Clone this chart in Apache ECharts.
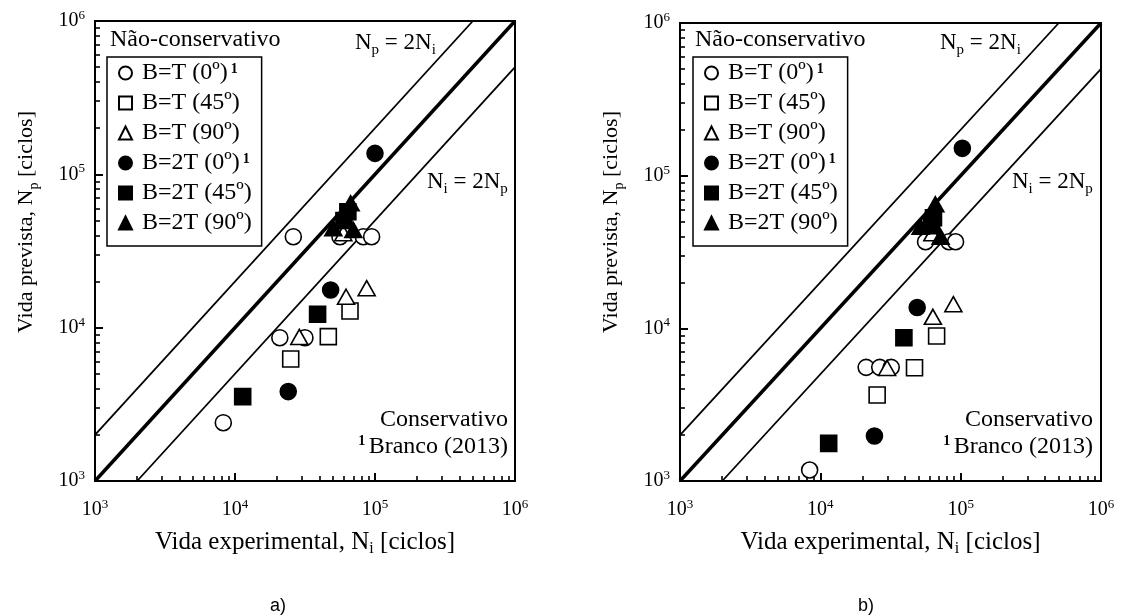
<!DOCTYPE html>
<html><head><meta charset="utf-8">
<script src="https://cdn.jsdelivr.net/npm/echarts@6/dist/echarts.min.js"></script>
<style>html,body{margin:0;padding:0;background:#fff}#c{width:1125px;height:616px}</style>
</head><body><div id="c"></div>
<script>
// ---------- data ----------
const seriesNames = ['B=T (0º)', 'B=T (45º)', 'B=T (90º)', 'B=2T (0º)', 'B=2T (45º)', 'B=2T (90º)'];
const supNames = ['B=T (0º)', 'B=2T (0º)'];
const tickExponents = [3, 4, 5, 6];
const minorMultipliers = [2, 3, 4, 5, 6, 7, 8, 9];

// chart a) [Ni, Np]
const a_BT_0   = [[8250, 2400], [20900, 8600], [31600, 8600], [26100, 39200], [56200, 39200], [82500, 39200], [94600, 39200]];
const a_BT_45  = [[25000, 6250], [46400, 8740], [66300, 12850]];
const a_BT_90  = [[28800, 8700], [62100, 15900], [87200, 18100], [59400, 41300]];
const a_B2T_0  = [[100000, 137000], [48200, 17600], [24000, 3830]];
const a_B2T_45 = [[11350, 3550], [38900, 12230], [60000, 50000], [64000, 57000]];
const a_B2T_90 = [[50400, 44500], [67000, 64800], [70000, 43400]];

// chart b) [Ni, Np]
const b_BT_0   = [[8390, 1180], [21200, 5550], [26500, 5550], [32000, 5550], [56200, 36900], [82500, 36900], [92000, 36900]];
const b_BT_45  = [[25400, 3660], [46900, 5520], [67400, 8900]];
const b_BT_90  = [[29900, 5500], [63400, 11900], [88700, 14400], [62800, 41900]];
const b_B2T_0  = [[102800, 151000], [49000, 13700], [24300, 1970]];
const b_B2T_45 = [[11470, 1765], [39400, 8680], [62000, 47000], [64000, 53000]];
const b_B2T_90 = [[51800, 46300], [66000, 65000], [72000, 39800]];

// reference lines
const lineNpEq2Ni = [[1000, 2000], [500000, 1000000]];
const lineNpEqNi  = [[1000, 1000], [1000000, 1000000]];
const lineNiEq2Np = [[2000, 1000], [1000000, 500000]];

// ---------- helpers ----------
const SERIF = 'Liberation Serif';
const FS = 24;
const majorTicks = tickExponents.map(e => Math.pow(10, e));
const minorTicks = [];
tickExponents.slice(0, -1).forEach(e => minorMultipliers.forEach(m => minorTicks.push(m * Math.pow(10, e))));

const supRich = {
  b: { fontFamily: SERIF, fontSize: 20, color: '#000', lineHeight: 24 },
  s: { fontFamily: SERIF, fontSize: 13, color: '#000', lineHeight: 13, verticalAlign: 'top' }
};
const tickFmt = v => '{b|10}{s|' + Math.round(Math.log10(v)) + '}';

const subRich = (fs) => ({
  m: { fontFamily: SERIF, fontSize: fs, color: '#000', lineHeight: 30 },
  sub: { fontFamily: SERIF, fontSize: Math.round(fs * 0.65), color: '#000', lineHeight: 14, verticalAlign: 'bottom' }
});

function makeAxes(grid, isX) {
  const main = {
    type: 'log', logBase: 10, min: 1000, max: 1000000, gridIndex: grid,
    position: isX ? 'bottom' : 'left',
    axisLine: { show: true, lineStyle: { color: '#000', width: 2 } },
    axisTick: { show: true, inside: true, length: 8, lineStyle: { color: '#000', width: 2 }, customValues: majorTicks },
    axisLabel: { show: true, margin: isX ? 17 : 10, formatter: tickFmt, rich: supRich, customValues: majorTicks },
    splitLine: { show: false },
    minorTick: { show: false }
  };
  if (isX) {
    main.name = '{m|Vida experimental, N}{sub|i}{m| [ciclos]}';
    main.nameLocation = 'middle';
    main.nameGap = 46;
    main.nameTextStyle = { rich: subRich(25) };
  }
  const minor = {
    type: 'log', logBase: 10, min: 1000, max: 1000000, gridIndex: grid,
    position: isX ? 'bottom' : 'left',
    axisLine: { show: false },
    axisTick: { show: true, inside: true, length: 5, lineStyle: { color: '#000', width: 1.6 }, customValues: minorTicks },
    axisLabel: { show: false },
    splitLine: { show: false }
  };
  return [main, minor];
}

const symbolDefs = [
  { symbol: 'circle', size: 16, fill: '#fff' },
  { symbol: 'rect', size: 16, fill: '#fff' },
  { symbol: 'triangle', size: [17, 15], fill: '#fff' },
  { symbol: 'circle', size: 16, fill: '#000' },
  { symbol: 'rect', size: 16, fill: '#000' },
  { symbol: 'triangle', size: [17, 15], fill: '#000' }
];

function lineSeries(data, grid, width) {
  return {
    type: 'line', data: data, xAxisIndex: grid * 2, yAxisIndex: grid * 2,
    showSymbol: false, symbol: 'none', silent: true, z: 2,
    lineStyle: { color: '#000', width: width }, legendHoverLink: false, tooltip: { show: false }
  };
}

function scatterSeries(sets, grid) {
  return sets.map((d, i) => ({
    type: 'scatter', name: seriesNames[i], data: d,
    xAxisIndex: grid * 2, yAxisIndex: grid * 2,
    symbol: symbolDefs[i].symbol, symbolSize: symbolDefs[i].size, z: 5 + (i >= 3 ? 1 : 0),
    itemStyle: { color: symbolDefs[i].fill, borderColor: '#000', borderWidth: 1.6, opacity: 1 }
  }));
}

function legendFor(left) {
  return {
    orient: 'vertical', left: left, top: 57,
    data: seriesNames, selectedMode: false,
    itemWidth: 13, itemHeight: 13, itemGap: 6,
    borderColor: '#000', borderWidth: 1.5, borderRadius: 0,
    padding: [4, 10, 11, 11],
    formatter: n => supNames.includes(n) ? '{t|' + n + '}{s|1}' : '{t|' + n + '}',
    textStyle: {
      color: '#000', fontFamily: SERIF, fontSize: FS, lineHeight: 22,
      rich: {
        t: { fontFamily: SERIF, fontSize: FS, lineHeight: 22, color: '#000', padding: [0, 0, 0, 5] },
        s: { fontFamily: SERIF, fontSize: 14, fontWeight: 'bold', lineHeight: 14, verticalAlign: 'top', color: '#000', padding: [0, 0, 0, 3] }
      }
    }
  };
}

function txt(x, y, text, rich, align, rot) {
  return { type: 'text', x: x, y: y, rotation: rot || 0, silent: true, style: { text: text, rich: rich, align: align || 'left', verticalAlign: 'middle', fontFamily: SERIF, fontSize: FS, fill: '#000' } };
}
const r23 = subRich(23);
const yRich = subRich(22);
const plainRich = { m: { fontFamily: SERIF, fontSize: FS, lineHeight: 26, color: '#000' }, s: { fontFamily: SERIF, fontSize: 14, fontWeight: 'bold', lineHeight: 14, verticalAlign: 'top', color: '#000' } };

function annotations(dx) {
  return [
    txt(110 + dx, 40, '{m|Não-conservativo}', plainRich),
    txt(355 + dx, 43, '{m|N}{sub|p}{m| = 2N}{sub|i}', r23),
    txt(427 + dx, 182, '{m|N}{sub|i}{m| = 2N}{sub|p}', r23),
    txt(508 + dx, 420, '{m|Conservativo}', plainRich, 'right'),
    txt(508 + dx, 447, '{s|1 }{m|Branco (2013)}', plainRich, 'right'),
    txt(26 + dx, 222, '{m|Vida prevista, N}{sub|p}{m| [ciclos]}', yRich, 'center', Math.PI / 2)
  ];
}

// ---------- chart ----------
const chart = echarts.init(document.getElementById('c'), null, { renderer: 'canvas' });
const axA_x = makeAxes(0, true), axB_x = makeAxes(1, true);
const axA_y = makeAxes(0, false), axB_y = makeAxes(1, false);

const option = {
  backgroundColor: '#fff',
  animation: false,
  grid: [
    { left: 95, top: 21, width: 420, height: 460, show: true, borderColor: '#000', borderWidth: 2, backgroundColor: 'transparent', containLabel: false },
    { left: 680, top: 23, width: 421, height: 458, show: true, borderColor: '#000', borderWidth: 2, backgroundColor: 'transparent', containLabel: false }
  ],
  xAxis: [axA_x[0], axA_x[1], axB_x[0], axB_x[1]],
  yAxis: [axA_y[0], axA_y[1], axB_y[0], axB_y[1]],
  legend: [legendFor(107), legendFor(693)],
  series: [
    lineSeries(lineNpEq2Ni, 0, 1.8), lineSeries(lineNpEqNi, 0, 3.5), lineSeries(lineNiEq2Np, 0, 1.8),
    lineSeries(lineNpEq2Ni, 1, 1.8), lineSeries(lineNpEqNi, 1, 3.5), lineSeries(lineNiEq2Np, 1, 1.8),
    ...scatterSeries([a_BT_0, a_BT_45, a_BT_90, a_B2T_0, a_B2T_45, a_B2T_90], 0),
    ...scatterSeries([b_BT_0, b_BT_45, b_BT_90, b_B2T_0, b_B2T_45, b_B2T_90], 1)
  ],
  graphic: [
    ...annotations(0),
    ...annotations(585),
    { type: 'text', x: 278, y: 606, silent: true, style: { text: 'a)', fontFamily: 'Liberation Sans', fontSize: 18, fill: '#000', align: 'center', verticalAlign: 'middle' } },
    { type: 'text', x: 866, y: 606, silent: true, style: { text: 'b)', fontFamily: 'Liberation Sans', fontSize: 18, fill: '#000', align: 'center', verticalAlign: 'middle' } }
  ]
};
chart.setOption(option);
</script>
</body></html>
